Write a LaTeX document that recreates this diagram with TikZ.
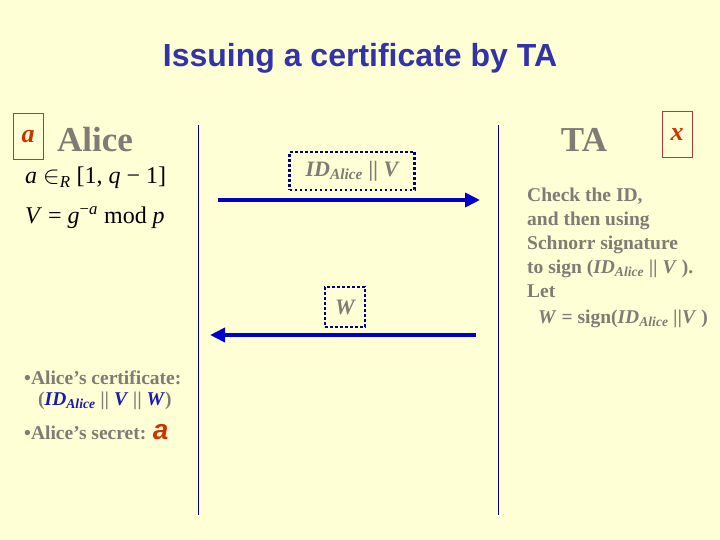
\documentclass[tikz,border=0pt]{standalone}
\usepackage{fontspec}
\setmainfont{Liberation Serif}
\newfontfamily\titlefont{Liberation Sans}
\usetikzlibrary{arrows.meta}
\definecolor{bgyellow}{HTML}{FFFFD6}
\definecolor{titleblue}{HTML}{3333A8}
\definecolor{txtgray}{HTML}{7E7C74}
\definecolor{keyred}{HTML}{CC3300}
\definecolor{boxred}{HTML}{B03A3A}
\definecolor{arrowblue}{HTML}{0000CC}
\definecolor{navy}{HTML}{000080}
\definecolor{certblue}{HTML}{1A1AB0}
\begin{document}
\begin{tikzpicture}[x=1pt,y=-1pt,
  keybox/.style={draw=boxred, line width=1pt, minimum width=30, minimum height=46, inner sep=0pt,
    text=keyred, font=\fontsize{26}{28}\selectfont\bfseries\itshape},
  party/.style={text=txtgray, font=\fontsize{35}{38}\selectfont\bfseries},
  formula/.style={anchor=west, inner sep=0pt, font=\fontsize{24}{28}\selectfont},
  msgbox/.style={draw=navy, line width=2.6pt, dash pattern=on 2.6pt off 2.4pt, inner sep=0pt,
    text=txtgray, font=\fontsize{22}{24}\selectfont\bfseries\itshape},
  msgarrow/.style={draw=arrowblue, line width=4.5pt, -{Triangle[length=15pt,width=14pt]}},
  lifeline/.style={draw=navy, line width=1pt},
  note/.style={text=txtgray, font=\fontsize{19.5}{24}\selectfont\bfseries, inner sep=0pt}]
\fill[bgyellow] (0,0) rectangle (720,540);
\useasboundingbox (0,0) rectangle (720,540);
% title
\node[text=titleblue, font=\titlefont\bfseries\fontsize{32}{36}\selectfont] (title) at (360,58) {Issuing a certificate by TA};
% Alice side
\node[keybox] (akey) at (28,137) {a};
\node[party] (alice) at (95,140) {Alice};
\node[formula] (choose) at (25,178) {\textit{a} $\in$\textsubscript{\textit{R}} [1, \textit{q} − 1]};
\node[formula] (pub) at (25,218) {\textit{V} = \textit{g}\textsuperscript{−\textit{a}} mod \textit{p}};
% TA side
\node[party] (ta) at (584,140) {TA};
\node[keybox] (xkey) at (677,135) {x};
\node[note, anchor=north west, align=left] (check) at (527,188) {Check the ID,\\
  and then using\\
  Schnorr signature\\
  to sign (\textit{ID}\textsubscript{\textit{Alice}} \textit{||} \textit{V} ).\\
  Let\\[2pt]
  \hspace*{11pt}\textit{W} = sign(\textit{ID}\textsubscript{\textit{Alice}} \textit{||V} )};
% lifelines
\coordinate (atop) at (198,125);
\coordinate (abot) at (198,515);
\coordinate (ttop) at (498,125);
\coordinate (tbot) at (498,515);
\draw[lifeline] (atop) -- (abot);
\draw[lifeline] (ttop) -- (tbot);
% messages
\node[msgbox, minimum width=125, minimum height=38] (req) at (352,171) {ID\textsubscript{Alice} || V};
\coordinate (reqfrom) at (218,200);
\coordinate (reqto) at (480,200);
\draw[msgarrow] (reqfrom) -- (reqto);
\node[msgbox, minimum width=40, minimum height=40] (resp) at (345,307) {W};
\coordinate (respfrom) at (476,335);
\coordinate (respto) at (210,335);
\draw[msgarrow] (respfrom) -- (respto);
% result
\node[note, anchor=west] (cert) at (24,378) {\textbullet Alice's certificate:};
\node[note, anchor=west] (certval) at (38,401) {(\textcolor{certblue}{\textit{ID}\textsubscript{\textit{Alice}}} \textit{||} \textcolor{certblue}{\textit{V}} \textit{||} \textcolor{certblue}{\textit{W}})};
\node[note, anchor=west] (secret) at (24,432) {\textbullet Alice's secret: \textcolor{keyred}{\fontsize{28}{30}\selectfont\titlefont\itshape a}};
\end{tikzpicture}
\end{document}
